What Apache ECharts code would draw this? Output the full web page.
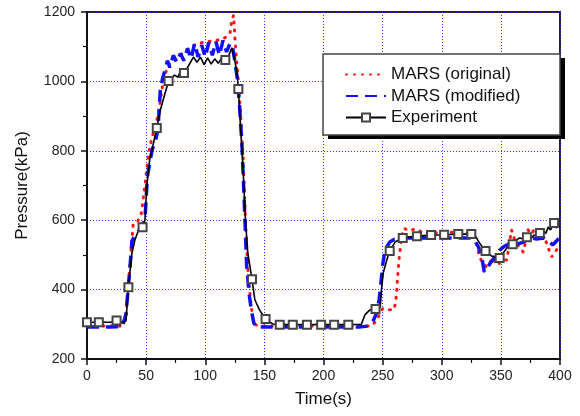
<!DOCTYPE html>
<html><head><meta charset="utf-8">
<script src="https://cdn.jsdelivr.net/npm/echarts@6/dist/echarts.min.js"></script>
<style>html,body{margin:0;padding:0;background:#fff}#c{width:580px;height:416px}</style>
</head><body><div id="c"></div>
<script>
// Experiment
var expT = [0,10,20,25,30,33,35,38,40.5,43,47,49,50.5,53,55.5,59,62,66,69,74,77,79,80,82,85,90,93,96,99,102,105,108,111,114,117,120,122.5,125,127,128,129.5,132,134,136,139.5,142,146,151,157,163,174,186,198,209,221,232,235,239,244,248,249,250.5,253.5,256,260.5,267,279,291,302,314,325,328,332,337,342,349,355,360,363,366,369,372,375,378,381,383,386,388,390,392,395,397,400];
var expP = [306,306,306,311,305,310,407,505,543,566,580,600,696,774,811,866,917,966,1001,1018,1012,1030,1015,1024,1040,1070,1055,1070,1048,1068,1050,1065,1052,1068,1062,1075,1097,1060,1020,978,889,745,600,505,430,370,341,315,301,299,299,299,299,299,299,300,327,341,344,350,399,448,485,511,537,549,554,557,558,560,560,557,534,511,497,491,520,531,543,549,546,551,545,557,553,563,570,562,580,572,592,578,583];
var expMarkT = [0,10,25,35,47,59,69,82,117,128,139.5,151,163,174,186,198,209,221,244,256,267,279,291,302,314,325,337,349,360,372,383,395];
// MARS (original)
var origT = [0,20,30,33,36,39,42,46,49,52,55,58,61,64,67,70,74,79,84,89,93,98,103,108,113,118,121,122.5,124,125,126,128,130,132,134,136,138,140,142,145,200,240,245,248,250,255,259,261,262,263,264,265,266,268,272,278,285,300,315,325,329,332,335,338,341,343,347,351,355,359,362,366,369,373,376,379,383,387,390,393,397,400];
var origP = [295,295,295,330,460,586,590,620,700,790,840,870,920,990,1030,1053,1060,1076,1090,1100,1110,1112,1115,1118,1120,1128,1140,1177,1190,1130,1080,1000,900,780,600,460,380,320,300,295,295,295,310,335,345,342,341,360,400,450,491,520,550,577,570,575,562,565,566,562,540,494,475,465,480,491,470,485,485,572,540,520,508,572,560,580,560,550,520,494,514,528];
// MARS (modified)
var modT = [0,10,20,25,30,33,36,38,41,45,49,51,55,58,60,62,64,66,68,70,73,76,79,82,85,88,91,94,97,100,103,106,109,112,115,118,121,123,125,127,129,131,133,135,137,139,141,143,150,200,230,238,242,245,247,248,250,252,256,260,270,300,325,328,331,334,336,338,341,345,349,353,358,363,369,375,380,386,390,394,397,400];
var modP = [292,292,292,293,294,330,450,540,560,575,600,724,802,830,860,975,1010,1033,1060,1040,1075,1055,1080,1060,1095,1065,1110,1070,1105,1070,1112,1075,1115,1075,1118,1085,1110,1100,1060,1010,930,820,650,470,390,340,305,292,292,292,292,295,310,333,370,399,470,514,537,545,549,549,549,540,523,490,451,460,476,495,514,525,534,530,537,549,546,549,540,529,540,552];

var xTicks = {min:0, max:400, interval:50};
var yTicks = {min:200, max:1200, interval:200};

function pairs(t, p){ return t.map(function(v,i){ return [v, p[i]]; }); }
var expData = expT.map(function(t,i){
  var marked = expMarkT.indexOf(t) >= 0;
  return marked ? {value:[t, expP[i]]} : {value:[t, expP[i]], symbol:'none'};
});

var font = 'Liberation Sans, Arial, sans-serif';
var chart = echarts.init(document.getElementById('c'), null, {renderer:'canvas'});
chart.setOption({
  animation:false,
  backgroundColor:'#fff',
  grid:{left:87,right:20,top:12,bottom:57,show:true,borderColor:'#222',borderWidth:2,backgroundColor:'transparent'},
  xAxis:{type:'value',min:xTicks.min,max:xTicks.max,interval:xTicks.interval,
    name:'Time(s)',nameLocation:'middle',nameGap:32,
    nameTextStyle:{fontFamily:font,fontSize:17,color:'#111'},
    axisLine:{show:true,onZero:false,lineStyle:{color:'#111',width:2}},
    axisTick:{show:true,inside:false,length:6,lineStyle:{color:'#111',width:1.5}},
    minorTick:{show:true,splitNumber:2,length:4,lineStyle:{color:'#111',width:1.2}},
    axisLabel:{fontFamily:font,fontSize:14,color:'#222',margin:10,formatter:function(v){return String(v);}},
    splitLine:{show:true,lineStyle:{color:'#3030ff',type:[1,2],width:1}}},
  yAxis:{type:'value',min:yTicks.min,max:yTicks.max,interval:yTicks.interval,
    name:'Pressure(kPa)',nameLocation:'middle',nameGap:56,nameRotate:90,
    nameTextStyle:{fontFamily:font,fontSize:17,color:'#111'},
    axisLine:{show:true,onZero:false,lineStyle:{color:'#111',width:2}},
    axisTick:{show:true,inside:false,length:6,lineStyle:{color:'#111',width:1.5}},
    minorTick:{show:true,splitNumber:2,length:4,lineStyle:{color:'#111',width:1.2}},
    axisLabel:{fontFamily:font,fontSize:14,color:'#222',margin:12,formatter:function(v){return String(v);}},
    splitLine:{show:true,lineStyle:{color:'#3030ff',type:[1,2],width:1}}},
  graphic:[
    {type:'rect',z:3,shape:{x:328,y:58,width:237,height:81},style:{fill:'#000'}},
    {type:'rect',z:3,shape:{x:323,y:54,width:237,height:81},style:{fill:'#fff',stroke:'#444',lineWidth:1.5}}
  ],
  legend:{orient:'vertical',left:345,top:66,padding:0,itemWidth:40,itemHeight:10,itemGap:4.5,z:5,
    textStyle:{fontFamily:font,fontSize:17,color:'#111'},
    data:[
      {name:'MARS (original)',itemStyle:{opacity:0}},
      {name:'MARS (modified)',itemStyle:{opacity:0}},
      {name:'Experiment'}
    ]},
  series:[
    {name:'MARS (original)',type:'line',data:pairs(origT,origP),showSymbol:false,symbol:'none',z:2,
      lineStyle:{color:'#ff1010',width:3,type:[1,7],cap:'round'},itemStyle:{color:'#ff1010'}},
    {name:'MARS (modified)',type:'line',data:pairs(modT,modP),showSymbol:false,symbol:'none',z:3,
      lineStyle:{color:'#1010ff',width:3.5,type:[12,7]},itemStyle:{color:'#1010ff'}},
    {name:'Experiment',type:'line',data:expData,symbol:'emptyRect',symbolSize:8,showAllSymbol:true,z:4,
      lineStyle:{color:'#000',width:1.6},itemStyle:{color:'#444',borderWidth:1.1}}
  ]
});
</script></body></html>
